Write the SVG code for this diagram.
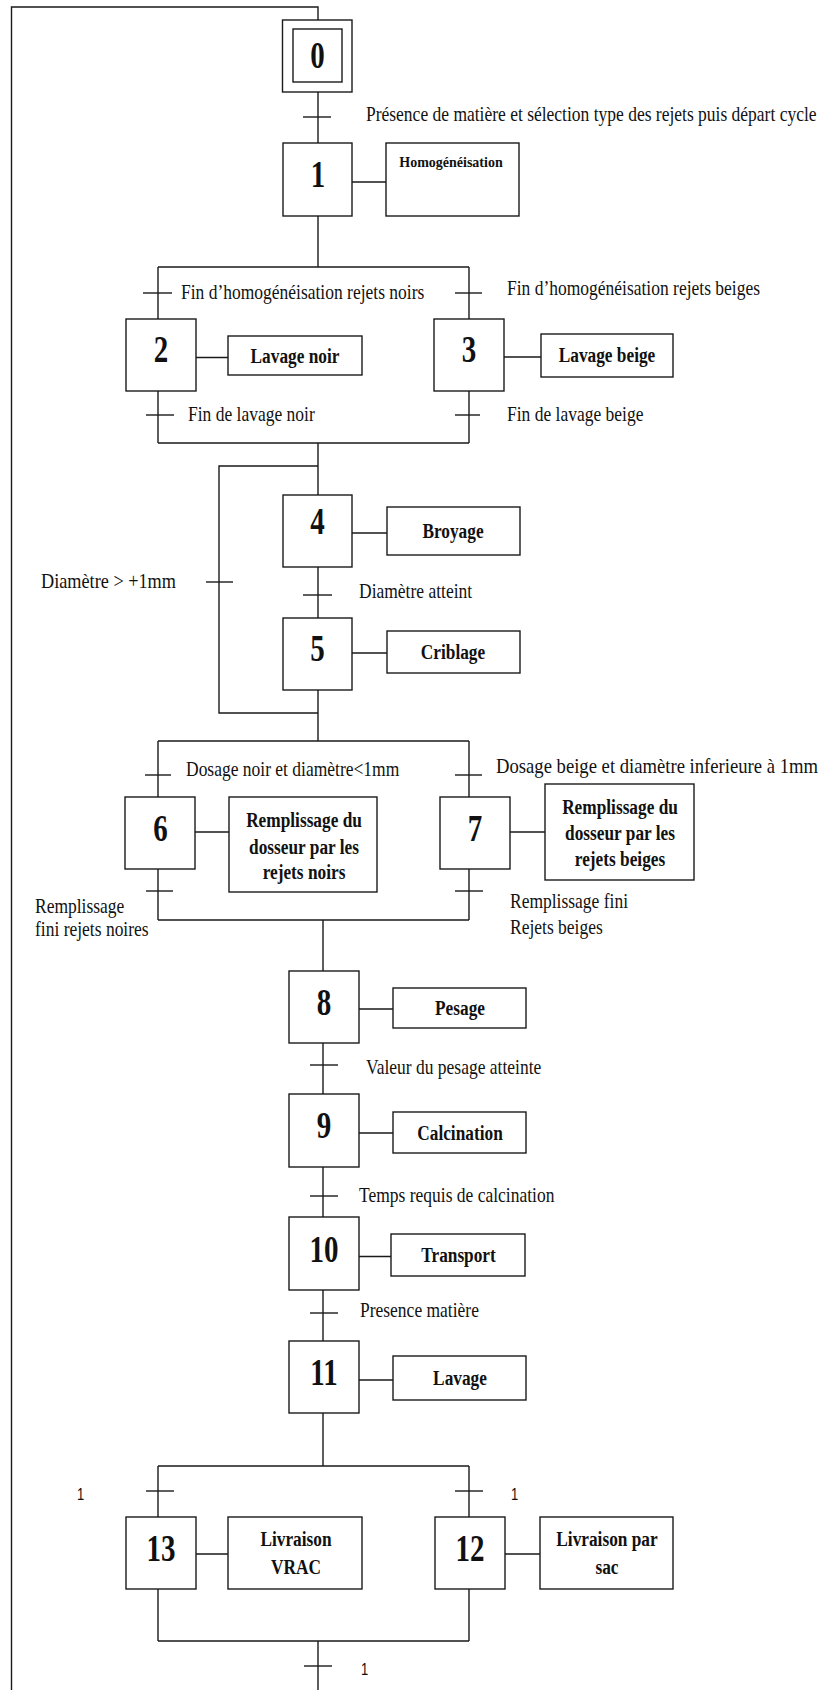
<svg xmlns="http://www.w3.org/2000/svg" width="822" height="1690" viewBox="0 0 822 1690">
<style>
.ln{stroke:#1a1a1a;stroke-width:1.4;fill:none}
.box{fill:#fff;stroke:#1a1a1a;stroke-width:1.4}
.num{font-family:"Liberation Serif","Times New Roman",serif;font-weight:bold;font-size:29px;text-anchor:middle;fill:#111}
.act{font-family:"Liberation Serif","Times New Roman",serif;font-weight:bold;font-size:17.3px;text-anchor:middle;fill:#111}
.cond{font-family:"Liberation Serif","Times New Roman",serif;font-size:17.5px;fill:#111}
.one{font-family:"Liberation Sans",Arial,sans-serif;font-size:13px;fill:#111}
</style>
<rect width="822" height="1690" fill="#fff"/>
<g id="connectors" class="ln">
<path d="M11.5,1690 V7 H318 V20"/>
<path d="M318,92 V143 M318,216 V267 M158,267 H469 M158,267 V319 M469,267 V319"/>
<path d="M158,391 V443 M469,391 V443 M158,443 H469 M318,443 V495 M318,567 V618"/>
<path d="M318,466 H219 V713 H318"/>
<path d="M318,690 V741 M158,741 H469 M158,741 V797 M469,741 V797"/>
<path d="M158,869 V920 M469,869 V920 M158,920 H469"/>
<path d="M323,920 V971 M323,1043 V1094 M323,1167 V1217 M323,1290 V1341 M323,1413 V1466"/>
<path d="M158,1466 H469 M158,1466 V1517 M469,1466 V1517"/>
<path d="M158,1589 V1641 M469,1589 V1641 M158,1641 H469 M318,1641 V1690"/>
<path d="M352,182 H386 M196,357.5 H228 M504,357 H541 M352,533 H387 M352,653 H387 M195,832 H229 M510,832 H545 M359,1009 H393 M359,1133 H393 M359,1256.5 H391 M359,1380 H393 M196,1554 H228 M505,1554 H540"/>
</g>
<g id="transitions">
<g id="t0-1"><path class="ln" d="M303,117 H331"/><text class="cond" transform="translate(366 121) scale(1 1.2)">Présence de matière et sélection type des rejets puis départ cycle</text></g>
<g id="t1-2"><path class="ln" d="M143,293 H172"/><text class="cond" transform="translate(181 299) scale(1 1.2)">Fin d’homogénéisation rejets noirs</text></g>
<g id="t1-3"><path class="ln" d="M455,293 H482"/><text class="cond" transform="translate(507 295) scale(1 1.2)">Fin d’homogénéisation rejets beiges</text></g>
<g id="t2-4"><path class="ln" d="M146,415 H174"/><text class="cond" transform="translate(188 421) scale(1 1.2)">Fin de lavage noir</text></g>
<g id="t3-4"><path class="ln" d="M455,415 H480"/><text class="cond" transform="translate(507 421) scale(1 1.2)">Fin de lavage beige</text></g>
<g id="t5-4"><path class="ln" d="M206,582 H233"/><text class="cond" textLength="135" lengthAdjust="spacingAndGlyphs" transform="translate(41 588) scale(1 1.2)">Diamètre &gt; +1mm</text></g>
<g id="t4-5"><path class="ln" d="M303,595 H332"/><text class="cond" transform="translate(359 598) scale(1 1.2)">Diamètre atteint</text></g>
<g id="t5-6"><path class="ln" d="M145,775 H171"/><text class="cond" transform="translate(186 776) scale(1 1.2)">Dosage noir et diamètre&lt;1mm</text></g>
<g id="t5-7"><path class="ln" d="M455,775 H482"/><text class="cond" textLength="322" lengthAdjust="spacingAndGlyphs" transform="translate(496 773) scale(1 1.2)">Dosage beige et diamètre inferieure à 1mm</text></g>
<g id="t6-8"><path class="ln" d="M146,891 H173"/><text class="cond" transform="translate(35 913) scale(1 1.2)">Remplissage</text><text class="cond" transform="translate(35 936) scale(1 1.2)">fini rejets noires</text></g>
<g id="t7-8"><path class="ln" d="M455,891 H483"/><text class="cond" transform="translate(510 908) scale(1 1.2)">Remplissage fini</text><text class="cond" transform="translate(510 934) scale(1 1.2)">Rejets beiges</text></g>
<g id="t8-9"><path class="ln" d="M310,1065 H338"/><text class="cond" transform="translate(366 1074) scale(1 1.2)">Valeur du pesage atteinte</text></g>
<g id="t9-10"><path class="ln" d="M310,1196 H338"/><text class="cond" transform="translate(359 1202) scale(1 1.2)">Temps requis de calcination</text></g>
<g id="t10-11"><path class="ln" d="M310,1313 H338"/><text class="cond" transform="translate(360 1317) scale(1 1.2)">Presence matière</text></g>
<g id="t11-13"><path class="ln" d="M146,1491 H174"/><text class="one" transform="translate(77 1500) scale(1 1.2)">1</text></g>
<g id="t11-12"><path class="ln" d="M455,1491 H483"/><text class="one" transform="translate(511 1500) scale(1 1.2)">1</text></g>
<g id="t12-0"><path class="ln" d="M304,1666 H332"/><text class="one" transform="translate(361 1675) scale(1 1.2)">1</text></g>
</g>
<g id="step0"><rect class="box" x="282.5" y="20" width="69.5" height="72"/><rect class="box" x="293" y="29" width="49" height="53"/><text class="num" transform="translate(317.5 68) scale(1 1.3)">0</text></g>
<g id="step1"><rect class="box" x="283" y="143" width="69" height="73"/><text class="num" transform="translate(318 187) scale(1 1.3)">1</text></g>
<g id="act1"><rect class="box" x="386" y="143" width="133" height="73"/><text class="act" style="font-size:14px" transform="translate(451 167) scale(1 1.08)">Homogénéisation</text></g>
<g id="step2"><rect class="box" x="126" y="319" width="70" height="72"/><text class="num" transform="translate(161 362) scale(1 1.3)">2</text></g>
<g id="act2"><rect class="box" x="228" y="336" width="134" height="39"/><text class="act" transform="translate(295 363) scale(1 1.2)">Lavage noir</text></g>
<g id="step3"><rect class="box" x="434" y="319" width="70" height="72"/><text class="num" transform="translate(469 362) scale(1 1.3)">3</text></g>
<g id="act3"><rect class="box" x="541" y="334" width="132" height="43"/><text class="act" transform="translate(607 362) scale(1 1.2)">Lavage beige</text></g>
<g id="step4"><rect class="box" x="283" y="495" width="69" height="72"/><text class="num" transform="translate(317.5 534) scale(1 1.3)">4</text></g>
<g id="act4"><rect class="box" x="387" y="507" width="133" height="48"/><text class="act" transform="translate(453 538) scale(1 1.2)">Broyage</text></g>
<g id="step5"><rect class="box" x="283" y="618" width="69" height="72"/><text class="num" transform="translate(317.5 661) scale(1 1.3)">5</text></g>
<g id="act5"><rect class="box" x="387" y="631" width="133" height="42"/><text class="act" transform="translate(453 659) scale(1 1.2)">Criblage</text></g>
<g id="step6"><rect class="box" x="125" y="797" width="70" height="72"/><text class="num" transform="translate(160.5 841) scale(1 1.3)">6</text></g>
<g id="act6"><rect class="box" x="229" y="797" width="148" height="95"/><text class="act" transform="translate(304 827) scale(1 1.2)">Remplissage du</text><text class="act" transform="translate(304 854) scale(1 1.2)">dosseur par les</text><text class="act" transform="translate(304 879) scale(1 1.2)">rejets noirs</text></g>
<g id="step7"><rect class="box" x="440" y="797" width="70" height="72"/><text class="num" transform="translate(475 841) scale(1 1.3)">7</text></g>
<g id="act7"><rect class="box" x="545" y="784" width="149" height="96"/><text class="act" transform="translate(620 814) scale(1 1.2)">Remplissage du</text><text class="act" transform="translate(620 840) scale(1 1.2)">dosseur par les</text><text class="act" transform="translate(620 866) scale(1 1.2)">rejets beiges</text></g>
<g id="step8"><rect class="box" x="289" y="971" width="70" height="72"/><text class="num" transform="translate(324 1015) scale(1 1.3)">8</text></g>
<g id="act8"><rect class="box" x="393" y="988" width="133" height="40"/><text class="act" transform="translate(460 1015) scale(1 1.2)">Pesage</text></g>
<g id="step9"><rect class="box" x="289" y="1094" width="70" height="73"/><text class="num" transform="translate(324 1138) scale(1 1.3)">9</text></g>
<g id="act9"><rect class="box" x="393" y="1112" width="133" height="41"/><text class="act" transform="translate(460 1139.5) scale(1 1.2)">Calcination</text></g>
<g id="step10"><rect class="box" x="289" y="1217" width="70" height="73"/><text class="num" transform="translate(324 1262) scale(1 1.3)">10</text></g>
<g id="act10"><rect class="box" x="391" y="1234" width="134" height="42"/><text class="act" transform="translate(458.5 1262) scale(1 1.2)">Transport</text></g>
<g id="step11"><rect class="box" x="289" y="1341" width="70" height="72"/><text class="num" transform="translate(324 1385) scale(1 1.3)">11</text></g>
<g id="act11"><rect class="box" x="393" y="1356" width="133" height="44"/><text class="act" transform="translate(460 1385) scale(1 1.2)">Lavage</text></g>
<g id="step13"><rect class="box" x="126" y="1517" width="70" height="72"/><text class="num" transform="translate(161 1561) scale(1 1.3)">13</text></g>
<g id="act13"><rect class="box" x="228" y="1517" width="134" height="72"/><text class="act" transform="translate(296 1546) scale(1 1.2)">Livraison</text><text class="act" transform="translate(296 1574) scale(1 1.2)">VRAC</text></g>
<g id="step12"><rect class="box" x="435" y="1517" width="70" height="72"/><text class="num" transform="translate(470 1561) scale(1 1.3)">12</text></g>
<g id="act12"><rect class="box" x="540" y="1517" width="133" height="72"/><text class="act" transform="translate(607 1546) scale(1 1.2)">Livraison par</text><text class="act" transform="translate(607 1574) scale(1 1.2)">sac</text></g>
</svg>
